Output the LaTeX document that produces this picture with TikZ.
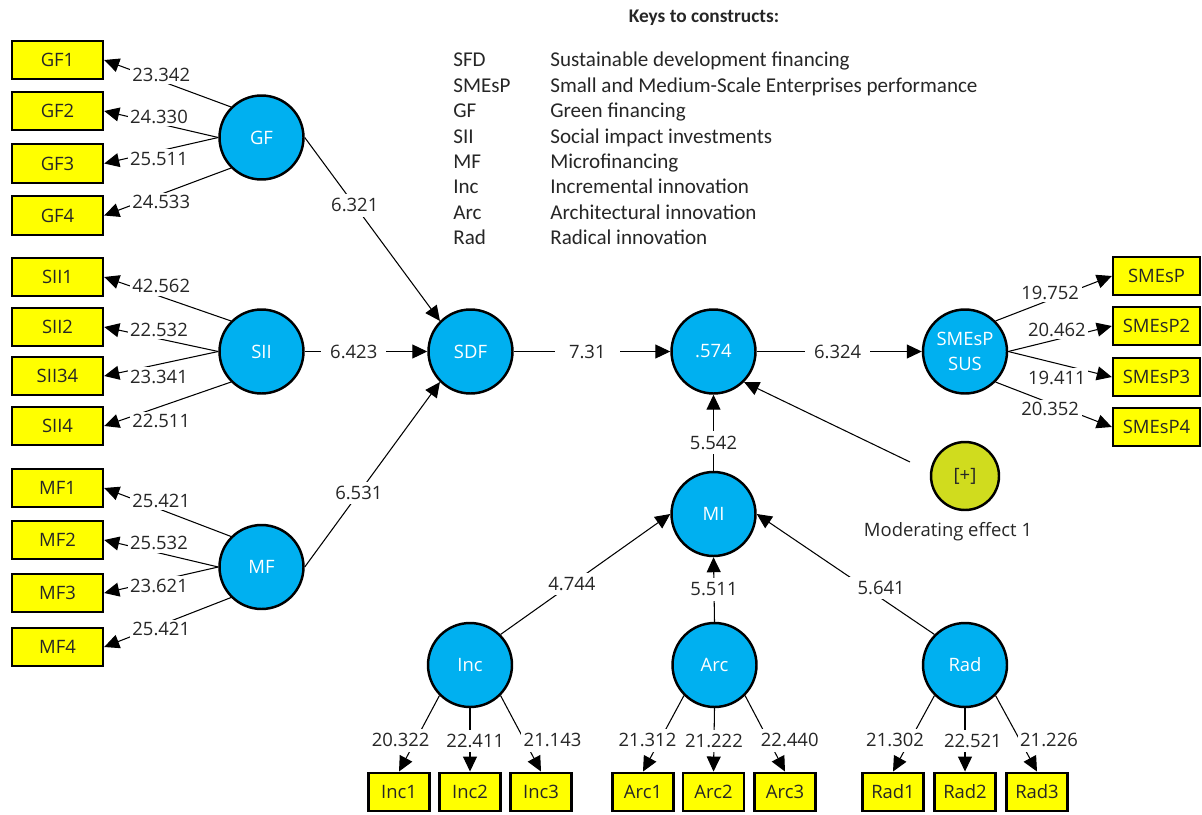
\documentclass[tikz,border=0pt]{standalone}
\usepackage{fontspec}
\setmainfont{Open Sans}
\newfontfamily\keyfont{Carlito}
\usetikzlibrary{arrows.meta}

\definecolor{latentblue}{RGB}{0,176,240}
\definecolor{itemyellow}{RGB}{255,255,0}
\definecolor{moderatorgreen}{RGB}{208,220,30}
\definecolor{inkgrey}{RGB}{38,38,38}

\tikzset{
  lv/.style={circle,draw,line width=1.4pt,fill=latentblue,text=white,
    minimum size=1.68cm,inner sep=0pt,align=center,
    font=\fontsize{10.5}{14.5}\selectfont},
  mv/.style={draw,line width=1.4pt,fill=itemyellow,text=inkgrey,
    minimum width=1.82cm,minimum height=0.77cm,inner sep=0pt},
  mvs/.style={mv,minimum width=1.22cm},
  mvr/.style={mv,minimum width=1.74cm},
  link/.style={-{Triangle[length=0.3cm,width=0.28cm]},line width=0.6pt},
  wt/.style={fill=white,inner xsep=1.5pt,inner ysep=1.5pt,text=inkgrey},
  wtin/.style={wt,inner xsep=5pt,inner ysep=2.5pt},
  keytext/.style={anchor=base west,inner sep=0pt,text=inkgrey,
    font=\keyfont\fontsize{12}{14}\selectfont}
}

\begin{document}
\begin{tikzpicture}[x=0.02cm,y=-0.02cm,font=\fontsize{10.5}{12.5}\selectfont]
  \useasboundingbox (0,0) rectangle (1202,814);

  % key to the constructs
  \node[text=inkgrey,font=\keyfont\bfseries\fontsize{11}{13}\selectfont] (keytitle) at (704,18) {Keys to constructs:};
  \foreach \k/\d [count=\i] in {SFD/Sustainable development financing,
      SMEsP/Small and Medium-Scale Enterprises performance,
      GF/Green financing, SII/Social impact investments, MF/Microfinancing,
      Inc/Incremental innovation, Arc/Architectural innovation,
      Rad/Radical innovation} {
    \node[keytext] (key\i) at (453,{67+25.4*(\i-1)}) {\k};
    \node[keytext] (desc\i) at (550,{67+25.4*(\i-1)}) {\d};
  }

  % latent variables
  \node[lv] (GF) at (261.5,137.5) {GF};
  \node[lv] (SII) at (261.5,351.5) {SII};
  \node[lv] (MF) at (261.5,567) {MF};
  \node[lv] (SDF) at (470.5,351.5) {SDF};
  \node[lv] (R2) at (713.5,351.5) {.574};
  \node[lv] (SUS) at (965,351.5) {SMEsP\\SUS};
  \node[lv] (MI) at (713.5,514) {MI};
  \node[lv] (Inc) at (470,665) {Inc};
  \node[lv] (Arc) at (714.5,665) {Arc};
  \node[lv] (Rad) at (965,665) {Rad};
  \node[circle,draw,line width=1.4pt,fill=moderatorgreen,text=inkgrey,
    minimum size=1.36cm,inner sep=0pt] (plus) at (965,476) {[+]};
  \node[text=inkgrey] (modtext) at (948,532) {Moderating effect 1};
  \coordinate (plusout) at (910,462);

  % inner model
  \draw[link] (GF.east) -- (SDF.north west) node[wtin,pos=.37] {6.321};
  \draw[link] (SII.east) -- (SDF.west) node[wtin,pos=.4] {6.423};
  \draw[link] (MF.east) -- (SDF.south west) node[wtin,pos=.4] {6.531};
  \draw[link] (SDF.east) -- (R2.west) node[wtin,pos=.47,inner xsep=8pt] {7.31};
  \draw[link] (R2.east) -- (SUS.west) node[wtin,pos=.49] {6.324};
  \draw[link] (MI.north) -- (R2.south) node[wtin,pos=.37] {5.542};
  \draw[link] (plusout) -- (R2.south east);
  \draw[link] (Inc.north east) -- (MI.west) node[wtin,pos=.42] {4.744};
  \draw[link] (Arc.north) -- (MI.south) node[wtin,pos=.5] {5.511};
  \draw[link] (Rad.north west) -- (MI.east) node[wtin,pos=.3,yshift=6pt] {5.641};

  % outer model, left
  \foreach \n/\y/\lv/\a/\v/\p/\s in {
      GF1/60/GF/north west/23.342/.55/3.5, GF2/111/GF/west/24.330/.52/4,
      GF3/163.5/GF/west/25.511/.52/-4.5, GF4/215.5/GF/south west/24.533/.55/-4.5,
      SII1/277/SII/north west/42.562/.55/6, SII2/327/SII/west/22.532/.52/5,
      SII34/376/SII/west/23.341/.52/-7, SII4/426/SII/south west/22.511/.55/-8.5,
      MF1/488/MF/north west/25.421/.55/5, MF2/540/MF/west/25.532/.52/5.5,
      MF3/593/MF/west/23.621/.52/-3, MF4/647/MF/south west/25.421/.55/-2.5} {
    \node[mv] (\n) at (57.5,\y) {\n};
    \draw[link] (\lv.\a) -- (\n.east) node[wt,pos=\p,yshift=\s pt] {\v};
  }

  % outer model, right
  \foreach \n/\y/\a/\v/\s in {SMEsP/276/north east/19.752/4,
      SMEsP2/326/east/20.462/5.5, SMEsP3/377/east/19.411/-8,
      SMEsP4/427/south east/20.352/-3.5} {
    \node[mvr] (\n) at (1156.5,\y) {\n};
    \draw[link] (SUS.\a) -- (\n.west) node[wt,pos=.47,yshift=\s pt] {\v};
  }

  % outer model, bottom
  \foreach \n/\x/\lv/\a/\v/\p/\s in {
      Inc1/399/Inc/south west/20.322/.59/-8.5, Inc2/470/Inc/south/22.411/.52/3,
      Inc3/541/Inc/south east/21.143/.59/16, Arc1/643/Arc/south west/21.312/.59/-7,
      Arc2/713.5/Arc/south/21.222/.52/0, Arc3/785/Arc/south east/22.440/.59/12,
      Rad1/893/Rad/south west/21.302/.59/-8.5, Rad2/965/Rad/south/22.521/.52/4.5,
      Rad3/1037/Rad/south east/21.226/.59/16.5} {
    \node[mvs] (\n) at (\x,792) {\n};
    \draw[link] (\lv.\a) -- (\n.north) node[wt,pos=\p,xshift=\s pt,inner ysep=2.5pt] {\v};
  }
\end{tikzpicture}
\end{document}
